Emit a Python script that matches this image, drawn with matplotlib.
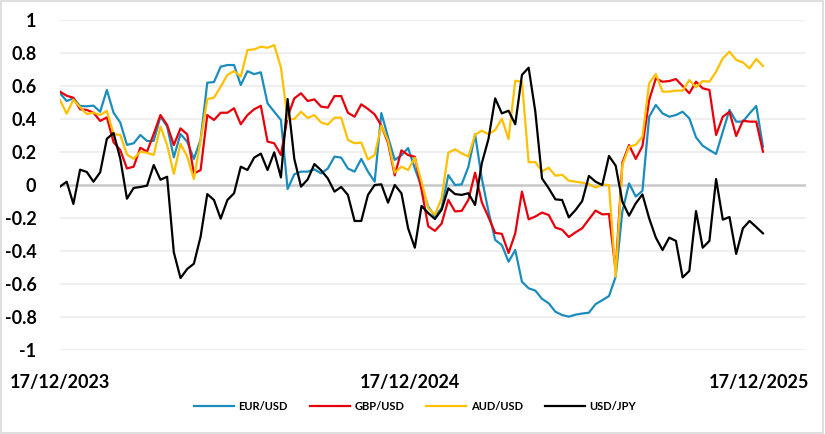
import matplotlib
matplotlib.use("Agg")
import matplotlib.pyplot as plt
import numpy as np
import pandas as pd
from matplotlib.patches import Rectangle

plt.rcParams['font.family'] = ['Lato', 'DejaVu Sans']

start_date = "2023-12-17"
n_points = 106
tick_dates = ["2023-12-17", "2024-12-17", "2025-12-17"]
tick_labels = ["17/12/2023", "17/12/2024", "17/12/2025"]
series_names = ["EUR/USD", "GBP/USD", "AUD/USD", "USD/JPY"]

eur_usd = [0.556, 0.509, 0.525, 0.479, 0.477, 0.481, 0.444, 0.576, 0.438, 0.379,
           0.243, 0.253, 0.303, 0.267, 0.267, 0.415, 0.355, 0.168, 0.309, 0.262,
           0.158, 0.275, 0.62, 0.624, 0.717, 0.727, 0.727, 0.606, 0.69, 0.672,
           0.683, 0.495, 0.444, 0.394, -0.024, 0.065, 0.081, 0.081, 0.095, 0.07,
           0.10, 0.172, 0.166, 0.10, 0.081, 0.158, 0.081, 0.02, 0.436, 0.29,
           0.152, 0.18, 0.224, 0.10, -0.01, -0.13, -0.19, -0.14, 0.06, 0.0,
           0.004, 0.11, 0.307, 0.04, -0.16, -0.333, -0.364, -0.465, -0.394, -0.586,
           -0.626, -0.64, -0.69, -0.717, -0.768, -0.788, -0.798, -0.786, -0.779, -0.774,
           -0.722, -0.698, -0.673, -0.556, -0.16, 0.01, -0.07, -0.035, 0.414, 0.485,
           0.434, 0.414, 0.424, 0.444, 0.404, 0.289, 0.238, 0.212, 0.188, 0.323,
           0.455, 0.384, 0.384, 0.434, 0.479, 0.232]

gbp_usd = [0.566, 0.541, 0.529, 0.459, 0.455, 0.438, 0.388, 0.41, 0.259, 0.212,
           0.10, 0.111, 0.226, 0.202, 0.31, 0.424, 0.364, 0.242, 0.343, 0.307,
           0.07, 0.09, 0.424, 0.394, 0.438, 0.438, 0.465, 0.368, 0.424, 0.459,
           0.48, 0.263, 0.253, 0.182, 0.414, 0.525, 0.556, 0.509, 0.519, 0.475,
           0.469, 0.539, 0.539, 0.438, 0.414, 0.489, 0.461, 0.428, 0.36, 0.255,
           0.058, 0.21, 0.181, 0.171, -0.03, -0.25, -0.278, -0.234, -0.09, -0.16,
           -0.157, -0.09, 0.075, -0.104, -0.195, -0.29, -0.296, -0.412, -0.293, -0.04,
           -0.208, -0.191, -0.167, -0.182, -0.258, -0.271, -0.315, -0.287, -0.262, -0.208,
           -0.155, -0.178, -0.176, -0.52, 0.135, 0.242, 0.158, 0.236, 0.515, 0.646,
           0.626, 0.63, 0.642, 0.6, 0.556, 0.626, 0.586, 0.576, 0.303, 0.414,
           0.444, 0.297, 0.39, 0.384, 0.384, 0.202]

aud_usd = [0.515, 0.432, 0.517, 0.472, 0.43, 0.439, 0.424, 0.449, 0.309, 0.303,
           0.185, 0.159, 0.202, 0.195, 0.182, 0.354, 0.243, 0.067, 0.25, 0.172,
           0.036, 0.27, 0.521, 0.529, 0.596, 0.667, 0.691, 0.657, 0.818, 0.822,
           0.838, 0.832, 0.848, 0.712, 0.4, 0.4, 0.444, 0.406, 0.424, 0.379,
           0.366, 0.408, 0.408, 0.273, 0.253, 0.257, 0.154, 0.182, 0.36, 0.268,
           0.075, 0.111, 0.091, 0.165, 0.02, -0.14, -0.18, -0.08, 0.196, 0.216,
           0.192, 0.172, 0.305, 0.329, 0.308, 0.333, 0.402, 0.278, 0.632, 0.626,
           0.138, 0.139, 0.082, 0.105, 0.056, 0.062, 0.026, 0.02, 0.014, 0.006,
           -0.016, 0.002, 0.0, -0.556, 0.121, 0.232, 0.244, 0.293, 0.616, 0.673,
           0.566, 0.566, 0.572, 0.572, 0.636, 0.592, 0.63, 0.626, 0.687, 0.768,
           0.808, 0.758, 0.743, 0.707, 0.764, 0.721]

usd_jpy = [-0.01, 0.02, -0.115, 0.093, 0.079, 0.02, 0.077, 0.28, 0.315, 0.16,
           -0.083, -0.018, -0.012, -0.004, 0.121, 0.032, 0.05, -0.408, -0.564, -0.509,
           -0.477, -0.313, -0.055, -0.091, -0.204, -0.091, -0.05, 0.111, 0.091, 0.166,
           0.19, 0.091, 0.198, 0.046, 0.521, 0.158, -0.01, 0.034, 0.127, 0.089,
           0.04, -0.04, -0.012, -0.06, -0.218, -0.218, -0.06, 0.0, 0.004, -0.107,
           0.0, -0.05, -0.263, -0.38, -0.127, -0.17, -0.206, -0.15, -0.02, -0.055,
           -0.06, -0.05, -0.121, 0.131, 0.279, 0.525, 0.434, 0.45, 0.368, 0.667,
           0.711, 0.444, 0.04, -0.02, -0.087, -0.091, -0.196, -0.152, -0.097, 0.055,
           0.02, 0.0, 0.176, 0.117, -0.101, -0.186, -0.111, -0.057, -0.202, -0.319,
           -0.394, -0.319, -0.339, -0.56, -0.521, -0.158, -0.38, -0.339, 0.036, -0.21,
           -0.194, -0.418, -0.263, -0.218, -0.255, -0.293]

y_ticks = [1, 0.8, 0.6, 0.4, 0.2, 0, -0.2, -0.4, -0.6, -0.8, -1]

colors = ["#1B8DBD", "#E8000B", "#FFC000", "#000000"]

dates = pd.date_range(start_date, periods=n_points, freq="7D")

fig = plt.figure(figsize=(8.25, 4.34), dpi=100)
ax = fig.add_axes([60/825, 1-350/434, (806-60)/825, 330/434])

for y in y_ticks:
    if y == 0:
        continue
    ax.axhline(y, color="#EFEFEF", lw=1.5, zorder=0)
ax.axhline(0, color="#C8C8C8", lw=1.8, zorder=1)

for name, vals, c in zip(series_names, [eur_usd, gbp_usd, aud_usd, usd_jpy], colors):
    ax.plot(dates, vals, color=c, lw=1.6, label=name, zorder=3)

ax.set_ylim(-1, 1)
ax.set_xlim(pd.Timestamp(start_date), pd.Timestamp(start_date) + pd.Timedelta(days=780))
ax.set_yticks(y_ticks)
ax.set_yticklabels([f"{v:g}" for v in y_ticks])
ax.set_xticks(pd.to_datetime(tick_dates))
ax.set_xticklabels(tick_labels)
ax.tick_params(axis="both", length=0, labelsize=13)
ax.tick_params(axis="y", pad=17)
ax.tick_params(axis="x", pad=17)
for lab in ax.get_xticklabels() + ax.get_yticklabels():
    lab.set_fontweight("bold")
for s in ax.spines.values():
    s.set_visible(False)
ax.set_facecolor("none")

leg = fig.legend(loc="center", bbox_to_anchor=(0.503, 1-406/434), ncol=4, frameon=False,
                 prop={"size": 8, "weight": "bold"}, handlelength=3.6,
                 handletextpad=0.4, columnspacing=2.0)
for h in leg.get_lines():
    h.set_linewidth(1.6)

fig.patches.append(Rectangle((0.001, 0.002), 0.997, 0.995, transform=fig.transFigure,
                             fill=False, edgecolor="#D9D9D9", lw=1.2))

fig.savefig("out.png", dpi=100)
